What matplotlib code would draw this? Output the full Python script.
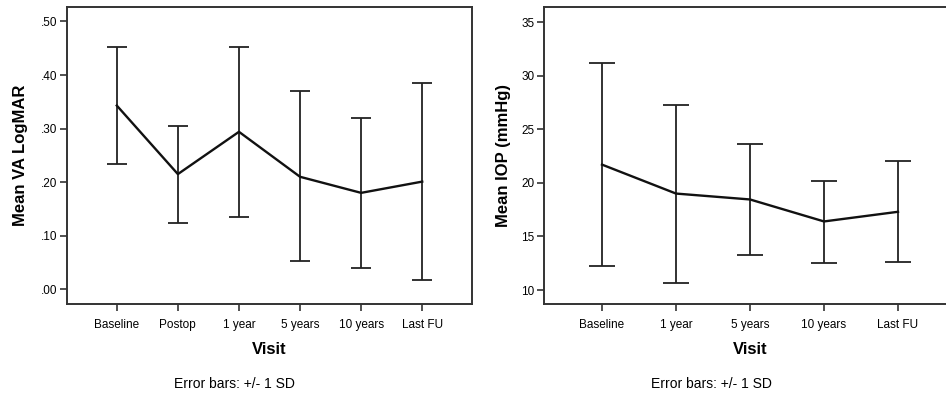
import matplotlib
matplotlib.use("Agg")
import matplotlib.pyplot as plt
from matplotlib.ticker import FuncFormatter

plt.rcParams['font.family'] = ['Liberation Sans', 'DejaVu Sans']

# Left panel: VA LogMAR
va_visits = ["Baseline", "Postop", "1 year", "5 years", "10 years", "Last FU"]
va_mean = [0.343, 0.215, 0.294, 0.210, 0.180, 0.201]
va_upper = [0.453, 0.305, 0.453, 0.371, 0.320, 0.386]
va_lower = [0.234, 0.124, 0.135, 0.052, 0.039, 0.018]
va_yticks = [0.0, 0.1, 0.2, 0.3, 0.4, 0.5]

# Right panel: IOP
iop_visits = ["Baseline", "1 year", "5 years", "10 years", "Last FU"]
iop_mean = [21.7, 19.0, 18.45, 16.4, 17.3]
iop_upper = [31.2, 27.3, 23.65, 20.2, 22.0]
iop_lower = [12.2, 10.7, 13.3, 12.55, 12.65]
iop_yticks = [10, 15, 20, 25, 30, 35]

W, H = 946, 397
fig = plt.figure(figsize=(W / 100, H / 100), dpi=100)

frame_col = "#333333"

def panel(rect, visits, mean, upper, lower, yticks, ylim, xlim, ylabel, fmt, capsize, ylabel_x):
    ax = fig.add_axes(rect)
    x = list(range(len(visits)))
    yerr = [[m - l for m, l in zip(mean, lower)], [u - m for m, u in zip(mean, upper)]]
    ax.errorbar(x, mean, yerr=yerr, fmt='none', ecolor='#222222', elinewidth=1.3,
                capsize=capsize, capthick=1.3)
    ax.plot(x, mean, color='#111111', lw=1.7)
    ax.set_xlim(*xlim)
    ax.set_ylim(*ylim)
    ax.set_xticks(x)
    ax.set_xticklabels(visits, fontsize=8.5)
    ax.set_yticks(yticks)
    ax.yaxis.set_major_formatter(FuncFormatter(fmt))
    ax.tick_params(axis='y', labelsize=8.5, length=5, width=1.2, color=frame_col, pad=2)
    ax.tick_params(axis='x', length=5, width=1.2, color=frame_col, pad=6)
    for s in ax.spines.values():
        s.set_color(frame_col)
        s.set_linewidth(1.4)
    ax.set_xlabel("Visit", fontsize=12, fontweight='bold', labelpad=8)
    ax.set_ylabel(ylabel, fontsize=12, fontweight='bold')
    ax.yaxis.set_label_coords(ylabel_x, 0.5)
    return ax

va_fmt = lambda v, p: ("%.2f" % v).lstrip('0') if v >= 0 else "%.2f" % v
iop_fmt = lambda v, p: "%d" % v

bottom = 1 - 304 / H
top = 1 - 7 / H
ax1 = panel([66.7 / W, bottom, (472.3 - 66.7) / W, top - bottom], va_visits, va_mean,
            va_upper, va_lower, va_yticks, (-0.0275, 0.527), (-0.82, 5.82),
            "Mean VA LogMAR", va_fmt, 7.5, -0.095)
ax2 = panel([544.3 / W, bottom, (955.7 - 544.3) / W, top - bottom], iop_visits, iop_mean,
            iop_upper, iop_lower, iop_yticks, (8.7, 36.4), (-0.78, 4.78),
            "Mean IOP (mmHg)", iop_fmt, 9.5, -0.082)

fig.text(234 / W, 1 - 384 / H, "Error bars: +/- 1 SD", fontsize=10,
         ha='center', va='center')
fig.text(711 / W, 1 - 384 / H, "Error bars: +/- 1 SD", fontsize=10,
         ha='center', va='center')

fig.savefig("out.png", dpi=100)
